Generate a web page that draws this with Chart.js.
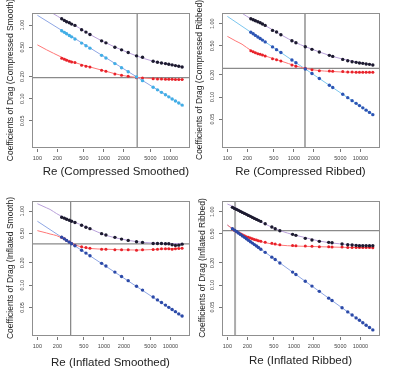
<!DOCTYPE html>
<html>
<head>
<meta charset="utf-8">
<script src="https://cdn.jsdelivr.net/npm/chart.js@4.4.1/dist/chart.umd.min.js"></script>
<style>
  html, body { margin: 0; padding: 0; background: #fff; }
  body { width: 396px; height: 378px; position: relative; overflow: hidden; }
  canvas { position: absolute; }
</style>
</head>
<body>
<canvas id="cs" width="200" height="190" style="left:0;top:0"></canvas>
<canvas id="cr" width="200" height="190" style="left:190px;top:0"></canvas>
<canvas id="is" width="200" height="190" style="left:0;top:188px"></canvas>
<canvas id="ir" width="200" height="190" style="left:190px;top:188px"></canvas>
<script>
// axis ticks shared by all four panels
const xTicks = [100, 200, 500, 1000, 2000, 5000, 10000];
const yTicks = [0.05, 0.1, 0.2, 0.5, 1];
const yTickLabels = ['0.05', '0.10', '0.20', '0.50', '1.00'];

// Compressed Smoothed
const reCS = [232, 254, 275, 302, 327, 367, 462, 537, 617, 923, 1072, 1462, 1841, 2317, 3090, 3802, 5495, 6383, 7328, 8414, 9441, 10593, 11885, 13335, 14962];
const totalCS = [1.22, 1.158, 1.11, 1.076, 1.032, 0.99, 0.864, 0.803, 0.746, 0.611, 0.574, 0.501, 0.461, 0.424, 0.382, 0.366, 0.323, 0.313, 0.306, 0.300, 0.294, 0.288, 0.282, 0.276, 0.270];
const blueCS = [0.839, 0.797, 0.762, 0.723, 0.692, 0.648, 0.570, 0.525, 0.486, 0.388, 0.357, 0.300, 0.264, 0.232, 0.197, 0.176, 0.143, 0.132, 0.122, 0.113, 0.106, 0.0993, 0.0931, 0.0873, 0.0819];
const redCS = [0.355, 0.344, 0.333, 0.323, 0.316, 0.310, 0.285, 0.276, 0.270, 0.243, 0.236, 0.217, 0.208, 0.202, 0.193, 0.191, 0.187, 0.185, 0.185, 0.184, 0.184, 0.184, 0.183, 0.182, 0.182];
const fitReCS = [100, 138, 174, 232, 367, 617, 1072, 1841, 3090, 5495, 9441, 15849];
const fitTotalCS = [1.797, 1.569, 1.427, 1.22, 0.99, 0.746, 0.574, 0.461, 0.382, 0.323, 0.294, 0.268];
const fitRedCS = [0.539, 0.461, 0.415, 0.366, 0.310, 0.270, 0.236, 0.208, 0.195, 0.187, 0.184, 0.182];
const fitBlueCS = [1.36, 0.0794];
const crossCS = [3162, 0.193];

// Compressed Ribbed
const reCR = [225, 244, 264, 287, 311, 337, 370, 477, 548, 637, 933, 1072, 1482, 1868, 2409, 3409, 3829, 5416, 6442, 7488, 8604, 9659, 10844, 12172, 13670, 15349];
const totalCR = [1.170, 1.134, 1.099, 1.065, 1.032, 0.990, 0.949, 0.811, 0.770, 0.708, 0.586, 0.551, 0.486, 0.447, 0.411, 0.370, 0.358, 0.326, 0.313, 0.303, 0.297, 0.291, 0.288, 0.282, 0.279, 0.273];
const blueCR = [0.766, 0.729, 0.693, 0.660, 0.628, 0.598, 0.565, 0.483, 0.443, 0.404, 0.320, 0.294, 0.241, 0.209, 0.179, 0.145, 0.135, 0.109, 0.098, 0.0892, 0.0819, 0.0763, 0.0711, 0.0662, 0.0617, 0.0575];
const redCR = [0.428, 0.415, 0.402, 0.390, 0.382, 0.374, 0.362, 0.333, 0.323, 0.310, 0.273, 0.262, 0.246, 0.236, 0.229, 0.226, 0.224, 0.222, 0.219, 0.219, 0.217, 0.217, 0.217, 0.217, 0.217, 0.217];
const fitReCR = [100, 134, 166, 225, 337, 637, 1072, 1482, 2409, 3409, 5416, 15349];
const fitTotalCR = [1.874, 1.58, 1.39, 1.170, 0.990, 0.708, 0.551, 0.487, 0.412, 0.370, 0.329, 0.273];
const fitRedCR = [0.672, 0.580, 0.525, 0.433, 0.374, 0.310, 0.265, 0.246, 0.229, 0.224, 0.219, 0.217];
const fitBlueCR = [1.259, 0.0574];
const crossCR = [1466, 0.246];

// Inflated Smoothed
const reIS = [232, 254, 275, 302, 327, 367, 462, 537, 617, 923, 1072, 1462, 1841, 2317, 3090, 3802, 5495, 6383, 7328, 8414, 9441, 10593, 11885, 13335, 14962];
const totalIS = [0.828, 0.803, 0.778, 0.754, 0.730, 0.701, 0.644, 0.605, 0.580, 0.496, 0.476, 0.442, 0.419, 0.402, 0.386, 0.378, 0.366, 0.366, 0.366, 0.362, 0.362, 0.351, 0.344, 0.347, 0.358];
const blueIS = [0.445, 0.422, 0.402, 0.381, 0.363, 0.340, 0.296, 0.271, 0.250, 0.197, 0.181, 0.150, 0.131, 0.115, 0.0968, 0.0857, 0.0690, 0.0632, 0.0582, 0.0537, 0.0501, 0.0469, 0.0438, 0.0409, 0.0382];
const redIS = [0.442, 0.424, 0.402, 0.382, 0.366, 0.347, 0.330, 0.323, 0.316, 0.306, 0.306, 0.300, 0.300, 0.300, 0.297, 0.300, 0.303, 0.306, 0.310, 0.310, 0.310, 0.306, 0.310, 0.313, 0.316];
const fitReIS = [100, 138, 155, 195, 275, 389, 617, 1072, 1841, 3162, 5495, 8710, 15488];
const fitTotalIS = [1.259, 1.105, 1.054, 0.924, 0.786, 0.692, 0.580, 0.471, 0.419, 0.386, 0.370, 0.366, 0.362];
const fitRedIS = [0.545, 0.506, 0.491, 0.466, 0.402, 0.344, 0.313, 0.306, 0.300, 0.298, 0.303, 0.310, 0.316];
const fitBlueIS = [0.730, 0.0370];
const crossIS = [316, 0.362];

// Inflated Ribbed
const reIR = [119, 127.5, 137, 146.5, 157, 168, 180.5, 193, 207, 222, 238, 255, 274, 293, 318, 370, 466, 523, 615, 955, 1072, 1482, 1868, 2409, 3332, 3740, 5291, 6442, 7488, 8604, 9659, 10844, 12172, 13670, 15349];
const totalIR = [1.146, 1.110, 1.076, 1.043, 1.010, 0.979, 0.949, 0.920, 0.891, 0.864, 0.837, 0.811, 0.786, 0.762, 0.738, 0.686, 0.618, 0.586, 0.551, 0.491, 0.476, 0.433, 0.411, 0.394, 0.382, 0.378, 0.362, 0.355, 0.351, 0.347, 0.344, 0.344, 0.344, 0.344, 0.344];
const blueIR = [0.587, 0.561, 0.537, 0.512, 0.490, 0.468, 0.447, 0.427, 0.408, 0.390, 0.373, 0.356, 0.340, 0.325, 0.308, 0.279, 0.240, 0.223, 0.200, 0.150, 0.139, 0.1125, 0.0967, 0.0819, 0.0662, 0.0614, 0.0489, 0.0430, 0.0390, 0.0356, 0.0330, 0.0306, 0.0283, 0.0263, 0.0244];
const redIR = [0.580, 0.557, 0.534, 0.517, 0.501, 0.486, 0.471, 0.456, 0.447, 0.437, 0.428, 0.419, 0.411, 0.402, 0.394, 0.382, 0.370, 0.362, 0.355, 0.347, 0.344, 0.340, 0.337, 0.333, 0.333, 0.330, 0.330, 0.326, 0.326, 0.326, 0.326, 0.326, 0.326, 0.326, 0.323];
const fitReIR = [100, 130.5, 189, 337, 601, 1072, 1517, 2409, 6080, 15349];
const fitTotalIR = [1.272, 1.146, 0.939, 0.708, 0.557, 0.476, 0.441, 0.398, 0.358, 0.344];
const fitRedIR = [0.658, 0.551, 0.456, 0.386, 0.351, 0.340, 0.337, 0.333, 0.326, 0.323];
const fitBlueIR = [0.658, 0.0243];
const crossIR = [130.5, 0.551];

const FONT = "'Liberation Sans', Arial, Helvetica, sans-serif";
const X_MIN = 83, X_MAX = 19000;

function pts(xs, ys) {
    return xs.map((x, i) => ({ x: x, y: ys[i] }));
}

// grey frame round the plot region, like R's box()
const boxPlugin = {
    id: 'box',
    afterDatasetsDraw(chart) {
        const a = chart.chartArea;
        const ctx = chart.ctx;
        ctx.save();
        ctx.strokeStyle = '#8f8f8f';
        ctx.lineWidth = 1;
        ctx.strokeRect(Math.round(a.left) + 0.5, Math.round(a.top) + 0.5,
            Math.round(a.right - a.left), Math.round(a.bottom - a.top));
        ctx.restore();
    }
};

function drawPanel(id, p) {
    const ctx = document.getElementById(id).getContext('2d');
    const fitEnds = [p.fitRe[0], p.fitRe[p.fitRe.length - 1]];
    const axisGrid = {
        display: true,
        drawOnChartArea: false,
        drawTicks: true,
        tickLength: 5,
        tickColor: '#777',
        tickWidth: 1,
        tickBorderDash: [0, 2, 3, 20]
    };

    new Chart(ctx, {
        type: 'scatter',
        data: {
            datasets: [
                // points on top
                { data: pts(p.re, p.total), pointRadius: 1.7, pointBorderWidth: 0, pointBackgroundColor: '#1d1b30', order: 1 },
                { data: pts(p.re, p.blue), pointRadius: 1.7, pointBorderWidth: 0, pointBackgroundColor: p.bluePt, order: 2 },
                { data: pts(p.re, p.red), pointRadius: 1.5, pointBorderWidth: 0, pointBackgroundColor: '#e8222a', order: 3 },
                // fitted curves
                { data: pts(p.fitRe, p.fitTotal), showLine: true, pointRadius: 0, borderColor: '#b9a0da', borderWidth: 1, cubicInterpolationMode: 'monotone', order: 4 },
                { data: pts(p.fitRe, p.fitRed), showLine: true, pointRadius: 0, borderColor: '#ff7777', borderWidth: 1, cubicInterpolationMode: 'monotone', order: 5 },
                { data: pts(fitEnds, p.fitBlue), showLine: true, pointRadius: 0, borderColor: p.blueLine, borderWidth: 1, order: 6 },
                // crossing guides
                { data: pts([p.cross[0], p.cross[0]], [p.yMin, p.yMax]), showLine: true, pointRadius: 0, borderColor: p.vColor, borderWidth: p.vWidth, order: 7 },
                { data: pts([X_MIN, X_MAX], [p.cross[1], p.cross[1]]), showLine: true, pointRadius: 0, borderColor: '#8a8a8a', borderWidth: 1.3, order: 8 }
            ]
        },
        options: {
            responsive: false,
            animation: false,
            devicePixelRatio: 1,
            layout: { padding: { left: 0, top: 13, right: 11, bottom: 0 } },
            plugins: {
                legend: { display: false },
                tooltip: { enabled: false }
            },
            scales: {
                x: {
                    type: 'logarithmic',
                    min: X_MIN,
                    max: X_MAX,
                    afterFit: function(scale) { scale.height = 43; },
                    afterBuildTicks: function(scale) { scale.ticks = xTicks.map(v => ({ value: v })); },
                    grid: axisGrid,
                    border: { display: false },
                    ticks: {
                        autoSkip: false,
                        maxRotation: 0,
                        minRotation: 0,
                        padding: 3,
                        color: '#444',
                        font: { family: FONT, size: 5.5 },
                        callback: function(value, index) { return String(xTicks[index]); }
                    },
                    title: {
                        display: true,
                        text: p.xTitle,
                        align: p.xAlign,
                        color: '#222',
                        font: { family: FONT, size: 11.5, lineHeight: 1 },
                        padding: { top: 0, bottom: p.xTitlePad }
                    }
                },
                y: {
                    type: 'logarithmic',
                    min: p.yMin,
                    max: p.yMax,
                    afterFit: function(scale) { scale.width = 32; },
                    afterBuildTicks: function(scale) { scale.ticks = yTicks.map(v => ({ value: v })); },
                    grid: axisGrid,
                    border: { display: false },
                    ticks: {
                        autoSkip: false,
                        minRotation: 90,
                        maxRotation: 90,
                        crossAlign: 'center',
                        padding: -1,
                        color: '#444',
                        font: { family: FONT, size: 5.5 },
                        callback: function(value, index) { return yTickLabels[index]; }
                    },
                    title: {
                        display: true,
                        text: p.yTitle,
                        color: '#222',
                        font: { family: FONT, size: 8.5, lineHeight: 1 },
                        padding: { top: p.yTitlePad, bottom: 0 }
                    }
                }
            }
        },
        plugins: [boxPlugin]
    });
}

drawPanel('cs', {
    re: reCS, total: totalCS, blue: blueCS, red: redCS,
    fitRe: fitReCS, fitTotal: fitTotalCS, fitRed: fitRedCS, fitBlue: fitBlueCS, cross: crossCS,
    yMin: 0.0221, yMax: 1.46, bluePt: '#41aee6', blueLine: '#8ea6e4',
    vColor: '#8a8a8a', vWidth: 1.3,
    xTitle: 'Re (Compressed Smoothed)', xAlign: 'end', xTitlePad: 12,
    yTitle: 'Coefficients of Drag (Compressed Smooth)', yTitlePad: 6.5
});
drawPanel('cr', {
    re: reCR, total: totalCR, blue: blueCR, red: redCR,
    fitRe: fitReCR, fitTotal: fitTotalCR, fitRed: fitRedCR, fitBlue: fitBlueCR, cross: crossCR,
    yMin: 0.0208, yMax: 1.40, bluePt: '#2c54b4', blueLine: '#7cc6ee',
    vColor: '#ababab', vWidth: 2,
    xTitle: 'Re (Compressed Ribbed)', xAlign: 'center', xTitlePad: 12,
    yTitle: 'Coefficients of Drag (Compressed Ribbed)', yTitlePad: 5.5
});
drawPanel('is', {
    re: reIS, total: totalIS, blue: blueIS, red: redIS,
    fitRe: fitReIS, fitTotal: fitTotalIS, fitRed: fitRedIS, fitBlue: fitBlueIS, cross: crossIS,
    yMin: 0.0212, yMax: 1.37, bluePt: '#2c4aa8', blueLine: '#8ea6e4',
    vColor: '#8a8a8a', vWidth: 1.3,
    xTitle: 'Re (Inflated Smoothed)', xAlign: 'center', xTitlePad: 9,
    yTitle: 'Coefficients of Drag (Inflated Smooth)', yTitlePad: 6.5
});
drawPanel('ir', {
    re: reIR, total: totalIR, blue: blueIR, red: redIR,
    fitRe: fitReIR, fitTotal: fitTotalIR, fitRed: fitRedIR, fitBlue: fitBlueIR, cross: crossIR,
    yMin: 0.0208, yMax: 1.40, bluePt: '#2c4aa8', blueLine: '#8ea6e4',
    vColor: '#ababab', vWidth: 2,
    xTitle: 'Re (Inflated Ribbed)', xAlign: 'center', xTitlePad: 11,
    yTitle: 'Coefficients of Drag (Inflated Ribbed)', yTitlePad: 8.5
});
</script>
</body>
</html>
